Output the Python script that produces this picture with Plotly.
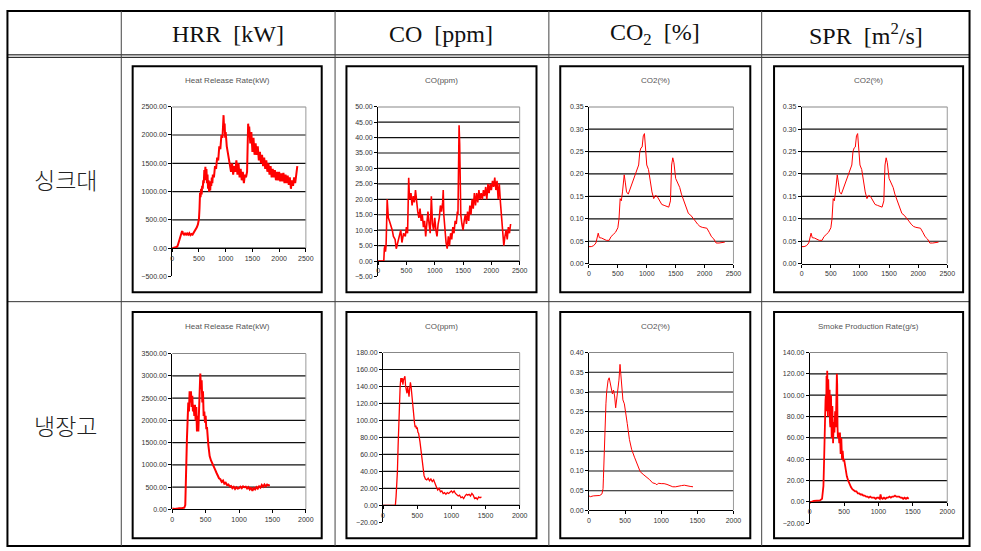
import plotly.graph_objects as go

W, H = 981, 551

# ---------------- data ----------------
header_labels = ["HRR  [kW]", "CO  [ppm]",
                 "CO<sub>2</sub>  [%]", "SPR  [m<sup>2</sup>/s]"]
row_labels = ["싱크대", "냉장고"]
chart_titles = ["Heat Release Rate(kW)", "CO(ppm)", "CO2(%)", "CO2(%)",
                "Heat Release Rate(kW)", "CO(ppm)", "CO2(%)", "Smoke Production Rate(g/s)"]

xticks_2500 = [0, 500, 1000, 1500, 2000, 2500]
xticks_2000 = [0, 500, 1000, 1500, 2000]
yticks_sink_hrr = [-500, 0, 500, 1000, 1500, 2000, 2500]
yticks_sink_co = [-5, 0, 5, 10, 15, 20, 25, 30, 35, 40, 45, 50]
yticks_sink_co2 = [0.0, 0.05, 0.10, 0.15, 0.20, 0.25, 0.30, 0.35]
yticks_fr_hrr = [0, 500, 1000, 1500, 2000, 2500, 3000, 3500]
yticks_fr_co = [-20, 0, 20, 40, 60, 80, 100, 120, 140, 160, 180]
yticks_fr_co2 = [0.0, 0.05, 0.10, 0.15, 0.20, 0.25, 0.30, 0.35, 0.40]
yticks_fr_spr = [-20, 0, 20, 40, 60, 80, 100, 120, 140]

# 싱크대 HRR (kW)
t_sink_hrr = [0, 20, 40, 60, 80, 100, 120, 140, 160, 180,
              190, 200, 220, 240, 260, 280, 300, 320, 340, 360,
              380, 400, 420, 440, 460, 480, 500, 510, 520, 530,
              540, 550, 560, 570, 580, 590, 600, 610, 620, 630,
              640, 650, 660, 670, 680, 690, 700, 710, 720, 730,
              740, 750, 760, 780, 800, 820, 840, 860, 880, 900,
              920, 940, 950, 960, 970, 980, 990, 1000, 1020, 1040,
              1060, 1080, 1100, 1120, 1140, 1160, 1180, 1200, 1220, 1240,
              1260, 1280, 1300, 1320, 1340, 1360, 1380, 1400, 1410, 1420,
              1430, 1440, 1460, 1480, 1500, 1520, 1540, 1560, 1580, 1600,
              1620, 1640, 1660, 1680, 1700, 1720, 1740, 1760, 1780, 1800,
              1820, 1840, 1860, 1880, 1900, 1920, 1940, 1960, 1980, 2000,
              2020, 2040, 2060, 2080, 2100, 2120, 2140, 2160, 2180, 2200,
              2220, 2240, 2260, 2280, 2300, 2320, 2340]
sink_hrr = [0, 5, 10, 15, 20, 40, 110, 170, 230, 290,
            300, 260, 240, 270, 230, 260, 240, 265, 230, 250,
            240, 270, 300, 330, 370, 420, 520, 700, 980, 900,
            1050, 950, 1100, 1050, 1200, 1150, 1380, 1250, 1440, 1200,
            1400, 1150, 1300, 1050, 1200, 1000, 1100, 1020, 1180, 1100,
            1250, 1150, 1300, 1250, 1450, 1400, 1600, 1550, 1800, 1750,
            2000, 1950, 2150, 2350, 2100, 2200, 1950, 2050, 1800, 1700,
            1550, 1450, 1350, 1500, 1300, 1450, 1350, 1550, 1300, 1500,
            1250, 1400, 1200, 1350, 1150, 1300, 1250, 1350, 1600, 2200,
            2050, 2150, 1850, 2050, 1700, 1950, 1650, 1850, 1650, 1800,
            1550, 1700, 1500, 1650, 1450, 1600, 1400, 1550, 1350, 1500,
            1300, 1450, 1250, 1400, 1250, 1380, 1200, 1350, 1200, 1350,
            1180, 1320, 1180, 1330, 1150, 1300, 1150, 1280, 1120, 1250,
            1050, 1200, 1100, 1250, 1150, 1300, 1450]

# 싱크대 CO (ppm)
t_sink_co = [0, 50, 100, 110, 120, 130, 140, 150, 160, 170,
             180, 200, 220, 250, 270, 300, 320, 350, 380, 400,
             420, 450, 480, 500, 520, 530, 540, 550, 560, 580,
             600, 620, 640, 660, 680, 700, 720, 740, 760, 780,
             800, 820, 840, 860, 880, 900, 920, 940, 950, 960,
             980, 1000, 1020, 1040, 1060, 1080, 1100, 1120, 1140, 1150,
             1160, 1180, 1200, 1220, 1240, 1260, 1280, 1300, 1320, 1340,
             1360, 1380, 1400, 1410, 1420, 1430, 1440, 1450, 1460, 1480,
             1500, 1520, 1540, 1560, 1580, 1600, 1620, 1640, 1660, 1680,
             1700, 1720, 1740, 1760, 1780, 1800, 1820, 1840, 1860, 1880,
             1900, 1920, 1940, 1960, 1980, 2000, 2020, 2040, 2060, 2080,
             2100, 2120, 2140, 2160, 2180, 2200, 2220, 2240, 2260, 2280,
             2300, 2320, 2340]
sink_co = [0, 0, 0, 4, 5, 3, 5, 12, 20, 17,
           14, 13, 12, 10, 8, 7, 4, 6, 8, 10,
           6, 9, 8, 11, 9, 18, 27, 22, 20, 22,
           18, 21, 19, 23, 18, 16, 14, 17, 13, 15,
           11, 13, 8, 11, 16, 12, 9, 21, 15, 12,
           10, 14, 10, 8, 12, 14, 18, 16, 19, 23,
           15, 10, 6, 4, 8, 5, 9, 7, 11, 9,
           13, 12, 16, 15, 30, 44, 38, 25, 15, 12,
           10, 13, 15, 12, 16, 13, 18, 15, 20, 17,
           22, 18, 22, 19, 23, 20, 22, 20, 23, 21,
           24, 20, 25, 22, 25, 23, 26, 24, 27, 23,
           26, 20, 25, 19, 14, 8, 5, 8, 10, 7,
           11, 9, 12]

# 싱크대 CO2 (%)
t_sink_co2 = [0, 40, 80, 120, 160, 180, 220, 260, 300, 350,
              380, 420, 460, 500, 520, 540, 560, 580, 610, 630,
              650, 680, 720, 760, 800, 830, 860, 880, 900, 920,
              940, 960, 980, 1000, 1030, 1060, 1090, 1120, 1150, 1180,
              1220, 1260, 1300, 1340, 1380, 1410, 1430, 1450, 1470, 1500,
              1540, 1570, 1600, 1640, 1680, 1720, 1760, 1800, 1840, 1880,
              1920, 1960, 2000, 2040, 2080, 2120, 2160, 2200, 2250, 2300,
              2350]
sink_co2 = [0.038, 0.038, 0.040, 0.046, 0.068, 0.058, 0.057, 0.055, 0.052, 0.052,
            0.060, 0.065, 0.070, 0.080, 0.100, 0.145, 0.140, 0.160, 0.198, 0.180,
            0.160, 0.155, 0.170, 0.185, 0.200, 0.210, 0.220, 0.250, 0.258, 0.260,
            0.285, 0.290, 0.260, 0.220, 0.210, 0.180, 0.160, 0.145, 0.152, 0.150,
            0.140, 0.132, 0.130, 0.128, 0.126, 0.140, 0.220, 0.236, 0.225, 0.190,
            0.180, 0.170, 0.155, 0.140, 0.125, 0.112, 0.108, 0.100, 0.095, 0.088,
            0.083, 0.081, 0.080, 0.079, 0.070, 0.060, 0.055, 0.046, 0.046, 0.047,
            0.048]

# 싱크대 SPR column (chart shows the CO2(%) curve)
t_sink_spr = list(t_sink_co2)
sink_spr = list(sink_co2)

# 냉장고 HRR (kW)
t_fr_hrr = [0, 40, 80, 100, 140, 180, 195, 200, 205, 210,
            220, 230, 240, 250, 260, 270, 280, 290, 300, 310,
            320, 330, 340, 350, 360, 370, 380, 390, 400, 410,
            420, 430, 440, 450, 460, 470, 480, 490, 500, 510,
            520, 540, 560, 580, 600, 620, 640, 660, 680, 700,
            720, 740, 760, 780, 800, 820, 840, 860, 880, 900,
            920, 940, 960, 980, 1000, 1020, 1040, 1060, 1080, 1100,
            1120, 1140, 1160, 1180, 1200, 1220, 1240, 1260, 1280, 1300,
            1320, 1340, 1360, 1380, 1400, 1420, 1440, 1460]
fr_hrr = [20, 10, 20, 30, 30, 40, 100, 600, 1150, 1000,
          1600, 2000, 2400, 2200, 2650, 2400, 2650, 2300, 2550, 2200,
          2350, 2100, 2350, 2000, 2300, 1750, 2100, 1750, 2200, 2600,
          3050, 2700, 2900, 2400, 2650, 2100, 2200, 1950, 2100, 1800,
          1850, 1450, 1200, 1100, 1020, 950, 900, 830, 770, 700,
          680, 620, 650, 580, 600, 550, 560, 520, 530, 480,
          510, 460, 500, 470, 480, 510, 480, 520, 500, 510,
          470, 500, 450, 490, 420, 480, 450, 500, 470, 520,
          490, 550, 510, 560, 520, 560, 540, 550]

# 냉장고 CO (ppm)
t_fr_co = [0, 50, 100, 150, 180, 190, 200, 210, 220, 230,
           240, 250, 260, 270, 280, 290, 300, 310, 320, 330,
           340, 350, 360, 370, 380, 390, 400, 410, 420, 430,
           440, 450, 460, 470, 480, 490, 500, 510, 520, 540,
           560, 580, 600, 620, 640, 660, 680, 700, 720, 740,
           760, 780, 800, 820, 840, 860, 880, 900, 920, 940,
           960, 980, 1000, 1020, 1040, 1060, 1080, 1100, 1120, 1140,
           1160, 1180, 1200, 1220, 1240, 1260, 1280, 1300, 1320, 1340,
           1360, 1380, 1400, 1420, 1440]
fr_co = [0, 0, 0, 0, 0, 10, 21, 40, 70, 100,
         125, 140, 150, 145, 150, 142, 148, 150, 152, 140,
         135, 132, 140, 130, 128, 138, 145, 140, 130, 125,
         115, 105, 97, 92, 94, 90, 92, 86, 85, 75,
         60, 45, 35, 31, 30, 32, 29, 31, 28, 30,
         25, 22, 18, 20, 16, 17, 14, 15, 13, 15,
         14, 16, 17, 15, 17, 14, 13, 11, 12, 9,
         10, 8, 11, 13, 12, 13, 11, 14, 12, 8,
         9, 7, 10, 9, 10]

# 냉장고 CO2 (%)
t_fr_co2 = [0, 20, 60, 100, 150, 180, 195, 200, 210, 225,
            235, 245, 255, 265, 280, 295, 310, 325, 340, 355,
            370, 385, 400, 415, 430, 440, 455, 470, 490, 510,
            530, 560, 590, 630, 670, 710, 760, 800, 840, 880,
            920, 940, 960, 1000, 1040, 1080, 1120, 1160, 1200, 1240,
            1280, 1320, 1360, 1400, 1440]
fr_co2 = [0.037, 0.035, 0.037, 0.038, 0.038, 0.042, 0.055, 0.080, 0.150, 0.220,
          0.270, 0.300, 0.320, 0.330, 0.336, 0.320, 0.300, 0.295, 0.305, 0.290,
          0.260, 0.280, 0.300, 0.330, 0.370, 0.350, 0.300, 0.280, 0.270, 0.250,
          0.220, 0.180, 0.155, 0.135, 0.115, 0.098, 0.090, 0.085, 0.078, 0.070,
          0.068, 0.065, 0.069, 0.068, 0.068, 0.066, 0.062, 0.060, 0.060, 0.062,
          0.063, 0.064, 0.062, 0.061, 0.060]

# 냉장고 Smoke Production Rate (g/s)
t_fr_spr = [0, 20, 60, 100, 150, 180, 190, 200, 210, 215,
            220, 225, 230, 235, 240, 245, 250, 255, 260, 265,
            270, 275, 280, 285, 290, 295, 300, 305, 310, 320,
            330, 340, 350, 360, 370, 380, 390, 395, 400, 405,
            410, 420, 430, 440, 450, 460, 470, 480, 490, 500,
            520, 540, 560, 580, 600, 620, 640, 660, 680, 700,
            720, 740, 760, 780, 800, 820, 840, 860, 880, 900,
            920, 940, 960, 980, 1000, 1020, 1030, 1040, 1060, 1080,
            1100, 1120, 1140, 1160, 1180, 1200, 1220, 1240, 1260, 1280,
            1300, 1320, 1340, 1360, 1380, 1400, 1420, 1440]
fr_spr = [-1, 0, 1, 1, 1.5, 3, 10, 15, 40, 62,
          50, 80, 95, 100, 85, 118, 95, 123, 100, 80,
          115, 90, 85, 100, 105, 75, 70, 95, 100, 60,
          90, 55, 75, 65, 85, 70, 95, 120, 110, 70,
          60, 65, 55, 65, 45, 60, 40, 48, 38, 40,
          30, 24, 20, 16, 14, 12, 11, 10, 10, 8,
          8, 7, 7, 6, 6, 5, 5, 4, 5, 4,
          4, 4, 3, 4, 4, 3, 7, 4, 3, 4,
          3, 4, 4, 5, 4, 5, 5, 6, 5, 5,
          5, 4, 4, 3, 4, 3, 4, 3]

# ---------------- layout helpers (pixel geometry) ----------------
def px_x(x):
    return x / W


def px_y(y):
    return 1 - y / H


row_frame_y = [(63, 292), (312, 541)]
col_frame_x = [(132, 323), (348, 540), (564, 756), (780, 971)]
title_y = [77, 327]

charts = [
    dict(t=t_sink_hrr, v=sink_hrr, yt=yticks_sink_hrr, xt=xticks_2500, plot=(172, 104, 307, 276), lw=2.0),
    dict(t=t_sink_co, v=sink_co, yt=yticks_sink_co, xt=xticks_2500, plot=(380, 104, 523, 276), lw=1.6),
    dict(t=t_sink_co2, v=sink_co2, yt=yticks_sink_co2, xt=xticks_2500, plot=(593, 104, 739, 263), lw=1.0),
    dict(t=t_sink_spr, v=sink_spr, yt=yticks_sink_co2, xt=xticks_2500, plot=(808, 104, 955, 263), lw=1.0),
    dict(t=t_fr_hrr, v=fr_hrr, yt=yticks_fr_hrr, xt=xticks_2000, plot=(172, 354, 307, 512), lw=2.0),
    dict(t=t_fr_co, v=fr_co, yt=yticks_fr_co, xt=xticks_2000, plot=(385, 353, 523, 525), lw=1.3),
    dict(t=t_fr_co2, v=fr_co2, yt=yticks_fr_co2, xt=xticks_2000, plot=(593, 353, 739, 513), lw=1.0),
    dict(t=t_fr_spr, v=fr_spr, yt=yticks_fr_spr, xt=xticks_2000, plot=(816, 353, 955, 526), lw=1.8),
]

fig = go.Figure()
shapes = []
annotations = []
layout_axes = {}

tick_font = dict(family="Liberation Sans, Arial, sans-serif", size=7, color="#333")


def fmt_y(v):
    s = f"{abs(v):.2f}"
    return ("\u2212" + s) if v < 0 else s


for i, c in enumerate(charts):
    n = i + 1
    sfx = "" if n == 1 else str(n)
    xa, ya = f"x{sfx}", f"y{sfx}"
    x0, y0, x1, y1 = c["plot"]
    xdom = [px_x(x0), px_x(x1)]
    ydom = [px_y(y1), px_y(y0)]
    ymin, ymax = c["yt"][0], c["yt"][-1]
    zero_pos = ydom[0] + (0 - ymin) / (ymax - ymin) * (ydom[1] - ydom[0])

    fig.add_trace(go.Scatter(x=c["t"], y=c["v"], mode="lines",
                             line=dict(color="#ff0000", width=c["lw"]),
                             xaxis=xa, yaxis=ya, hoverinfo="skip"))

    layout_axes[f"xaxis{sfx}"] = dict(
        domain=xdom, range=[c["xt"][0], c["xt"][-1]], anchor="free", position=zero_pos,
        showline=True, linecolor="#000", linewidth=1, ticks="outside", ticklen=3,
        tickcolor="#000", tickvals=c["xt"], ticktext=[str(v) for v in c["xt"]],
        showgrid=False, zeroline=False, tickfont=tick_font, fixedrange=True)
    layout_axes[f"yaxis{sfx}"] = dict(
        domain=ydom, range=[ymin, ymax], anchor=xa,
        showline=True, linecolor="#000", linewidth=1, ticks="outside", ticklen=3,
        tickcolor="#000", tickvals=c["yt"], ticktext=[fmt_y(v) for v in c["yt"]],
        showgrid=False, zeroline=False, tickfont=tick_font, fixedrange=True)

    # horizontal gridlines (not at the bottom tick)
    for v in c["yt"][1:]:
        shapes.append(dict(type="line", xref=f"{xa} domain", yref=ya, x0=0, x1=1, y0=v, y1=v,
                           line=dict(color="#111", width=1.2), layer="below"))
    # grey plot-area right edge
    shapes.append(dict(type="line", xref=f"{xa} domain", yref=ya, x0=1, x1=1, y0=0, y1=ymax,
                       line=dict(color="#9a9a9a", width=1), layer="below"))

    # chart frame and title
    r, col = divmod(i, 4)
    fx0, fx1 = col_frame_x[col]
    fy0, fy1 = row_frame_y[r]
    shapes.append(dict(type="rect", xref="paper", yref="paper",
                       x0=px_x(fx0), x1=px_x(fx1), y0=px_y(fy1), y1=px_y(fy0),
                       line=dict(color="#000", width=2)))
    annotations.append(dict(text=chart_titles[i], xref="paper", yref="paper",
                            x=px_x((fx0 + fx1) / 2), y=px_y(title_y[r]), showarrow=False,
                            xanchor="center", yanchor="middle",
                            font=dict(family="Liberation Sans, Arial, sans-serif", size=8, color="#555")))

# ---------------- table grid ----------------
def hline(y, x0, x1, w=1, color="#000"):
    shapes.append(dict(type="line", xref="paper", yref="paper", x0=px_x(x0), x1=px_x(x1),
                       y0=px_y(y), y1=px_y(y), line=dict(color=color, width=w)))


def vline(x, y0, y1, w=1, color="#000"):
    shapes.append(dict(type="line", xref="paper", yref="paper", x0=px_x(x), x1=px_x(x),
                       y0=px_y(y0), y1=px_y(y1), line=dict(color=color, width=w)))


hline(7, 5, 978, 2)
hline(51.5, 5, 978, 1)
hline(54, 5, 978, 1)
hline(301.5, 5, 978, 1, "#333")
hline(549, 5, 978, 2)
vline(5.5, 6, 550, 2)
vline(977.5, 6, 550, 2)
for x in [120.5, 336.5, 552.5, 767.5]:
    vline(x, 7, 549, 1, "#444")

header_cx = [228, 444, 660, 873]
for cx, lab in zip(header_cx, header_labels):
    annotations.append(dict(text=lab, xref="paper", yref="paper", x=px_x(cx), y=px_y(30),
                            showarrow=False, xanchor="center", yanchor="middle",
                            font=dict(family="Liberation Serif, DejaVu Serif, serif", size=24, color="#111")))
for cy, lab in zip([177, 426], row_labels):
    annotations.append(dict(text=lab, xref="paper", yref="paper", x=px_x(64), y=px_y(cy),
                            showarrow=False, xanchor="center", yanchor="middle",
                            font=dict(family="Noto Sans CJK KR, sans-serif", size=23, color="#222",
                                      weight=300)))

fig.update_layout(width=W, height=H, margin=dict(l=0, r=0, t=0, b=0),
                  paper_bgcolor="white", plot_bgcolor="rgba(0,0,0,0)",
                  showlegend=False, shapes=shapes, annotations=annotations, **layout_axes)

fig.write_html("out.html", config={"displayModeBar": False},
               post_script="document.body.style.margin='0';document.body.style.overflow='hidden';")
